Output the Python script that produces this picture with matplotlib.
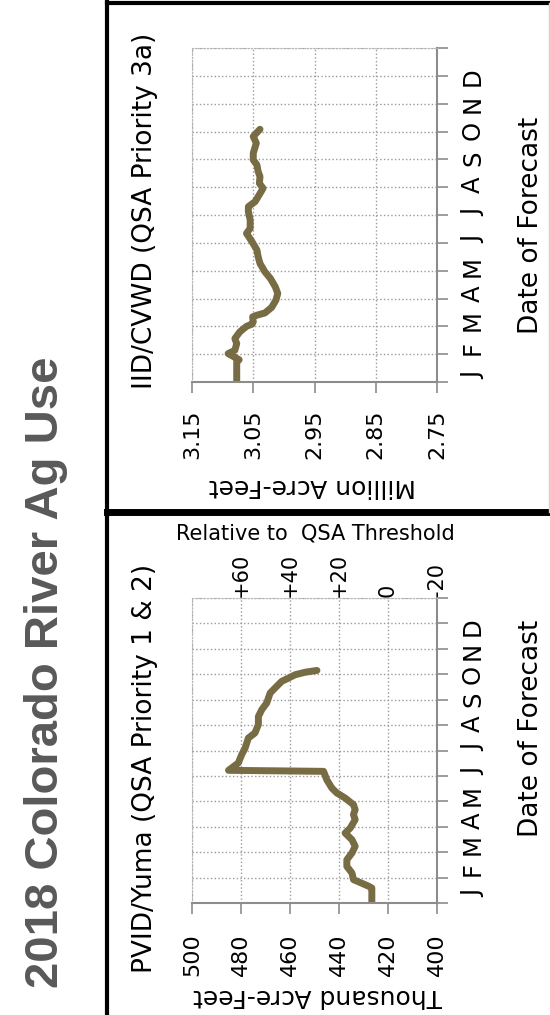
import matplotlib.pyplot as plt
from matplotlib.lines import Line2D

# month letters along the date axis
months = ["J", "F", "M", "A", "M", "J", "J", "A", "S", "O", "N", "D"]

# IID/CVWD forecast, million acre-feet vs. month of forecast
iid_month = [0, 0.72, 0.80, 1.02, 1.14, 1.38, 1.56, 1.80, 2.00, 2.08, 2.16, 2.34,
             2.40, 2.48, 2.68, 2.94, 3.18, 3.42, 3.72, 3.96, 4.26, 4.50, 4.74,
             5.04, 5.34, 5.52, 5.82, 6.12, 6.30, 6.48, 6.66, 6.96, 7.14, 7.38,
             7.56, 7.80, 7.98, 8.22, 8.58, 8.82, 8.94, 9.08]
iid_value = [3.077, 3.077, 3.073, 3.091, 3.080, 3.077, 3.080, 3.072, 3.061, 3.052,
             3.050, 3.051, 3.044, 3.031, 3.020, 3.013, 3.010, 3.014, 3.022, 3.031,
             3.039, 3.042, 3.044, 3.052, 3.061, 3.055, 3.055, 3.058, 3.058, 3.047,
             3.042, 3.034, 3.040, 3.039, 3.042, 3.044, 3.050, 3.050, 3.045, 3.050,
             3.045, 3.039]

# PVID/Yuma forecast, thousand acre-feet vs. month of forecast
pvid_month = [0, 0.59, 0.66, 0.92, 1.18, 1.44, 1.70, 1.97, 2.23, 2.49, 2.75, 2.95,
              3.28, 3.48, 3.67, 3.87, 4.13, 4.33, 4.52, 4.85, 5.18, 5.22, 5.51,
              5.84, 6.10, 6.49, 6.69, 7.02, 7.34, 7.61, 7.87, 8.26, 8.46, 8.72,
              8.85, 8.98, 9.08, 9.15]
pvid_value = [426.6, 426.6, 427.9, 434.1, 434.7, 436.8, 436.8, 434.7, 433.4, 434.7,
              437.5, 435.4, 433.4, 434.1, 433.4, 434.1, 437.5, 440.9, 442.9, 445.0,
              446.3, 485.1, 481.1, 479.7, 478.3, 477.0, 474.3, 472.9, 472.9, 471.5,
              469.5, 468.1, 466.1, 463.4, 460.6, 457.9, 453.8, 449.0]

iid_ticks = [3.15, 3.05, 2.95, 2.85, 2.75]
iid_labels = ["3.15", "3.05", "2.95", "2.85", "2.75"]
pvid_ticks = [500, 480, 460, 440, 420, 400]
pvid_labels = ["500", "480", "460", "440", "420", "400"]
qsa_threshold = 420
rel_ticks = [60, 40, 20, 0, -20]
rel_labels = ["+60", "+40", "+20", "0", "-20"]

line_color = "#776c43"
axis_gray = "#8c8c8c"
W, H = 550, 1015

plt.rcParams["font.family"] = ["DejaVu Sans"]

fig = plt.figure(figsize=(W / 100, H / 100), dpi=100)


def fx(x):
    return x / W


def fy(y):
    return 1 - y / H


def make_panel(top, bottom, xmin, xmax, ticks, labels, m_start, m_end):
    ax = fig.add_axes([fx(192), fy(bottom), fx(437) - fx(192), fy(top) - fy(bottom)])
    ax.set_xlim(xmin, xmax)
    ax.set_ylim(0, 12)
    ax.set_xticks(ticks)
    ax.set_xticklabels(labels, rotation=90, fontsize=16)
    ax.set_yticks(range(13))
    ax.tick_params(axis="x", direction="out", length=8, width=1.2, color=axis_gray, pad=12)
    ax.tick_params(axis="y", left=False, right=True, labelleft=False, labelright=False,
                   direction="out", length=8, width=1.2, color=axis_gray)
    ax.grid(True, linestyle=":", color="#9a9a9a", linewidth=1)
    for side in ["top", "left"]:
        ax.spines[side].set_linestyle(":")
        ax.spines[side].set_color("#b8b8b8")
    for side in ["bottom", "right"]:
        ax.spines[side].set_color(axis_gray)
        ax.spines[side].set_linewidth(1.5)
    step = (m_end - m_start) / 11
    for i, m in enumerate(months):
        ax.text(1.147, m_start + i * step, m, transform=ax.get_yaxis_transform(),
                rotation=90, ha="center", va="center", fontsize=17.5, clip_on=False)
    return ax


# top panel: IID/CVWD
ax1 = make_panel(48, 382, 3.15, 2.75, iid_ticks, iid_labels, 0.24, 10.98)
ax1.plot(iid_value, iid_month, color=line_color, lw=5,
         solid_capstyle="round", solid_joinstyle="round")

# bottom panel: PVID/Yuma
ax2 = make_panel(598, 903, 500, 400, pvid_ticks, pvid_labels, 0.39, 10.89)
ax2.tick_params(axis="x", pad=14)
ax2.plot(pvid_value, pvid_month, color=line_color, lw=5,
         solid_capstyle="round", solid_joinstyle="round")
sec = ax2.secondary_xaxis("top", functions=(lambda v: v - qsa_threshold,
                                            lambda r: r + qsa_threshold))
sec.set_xticks(rel_ticks)
sec.set_xticklabels(rel_labels, rotation=90, fontsize=15)
sec.tick_params(length=0, pad=1)
sec.spines["top"].set_visible(False)

# panel texts
fig.text(fx(145), fy(211), "IID/CVWD (QSA Priority 3a)", rotation=90,
         ha="center", va="center", fontsize=19)
fig.text(fx(145), fy(768), "PVID/Yuma (QSA Priority 1 & 2)", rotation=90,
         ha="center", va="center", fontsize=19)
fig.text(fx(531), fy(225), "Date of Forecast", rotation=90,
         ha="center", va="center", fontsize=19)
fig.text(fx(531), fy(728), "Date of Forecast", rotation=90,
         ha="center", va="center", fontsize=19)
fig.text(fx(312), fy(486), "Million Acre-Feet", rotation=180,
         ha="center", va="center", fontsize=18)
fig.text(fx(318), fy(996), "Thousand Acre-Feet", rotation=180,
         ha="center", va="center", fontsize=18)
fig.text(fx(315), fy(533), "Relative to  QSA Threshold",
         ha="center", va="center", fontsize=15)

# main title
fig.text(fx(46), fy(672), "2018 Colorado River Ag Use", rotation=90,
         ha="center", va="center", fontsize=34, fontweight="bold",
         family="Liberation Sans", color="#595959")

# panel borders
for xs, ys, lw, c in [([107, 107], [1, 1015], 3, "black"),
                      ([107, 550], [3, 3], 3, "black"),
                      ([107, 550], [512, 512], 5, "black"),
                      ([549, 549], [3, 512], 1, "#d0d0d0")]:
    fig.add_artist(Line2D([fx(x) for x in xs], [fy(y) for y in ys],
                          transform=fig.transFigure, color=c, lw=lw))

fig.savefig("out.png", dpi=100)
